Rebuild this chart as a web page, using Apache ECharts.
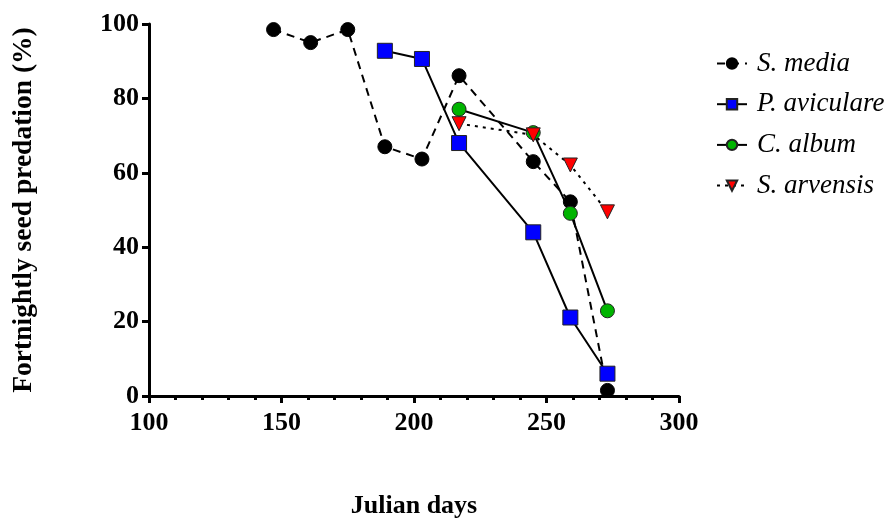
<!DOCTYPE html>
<html><head><meta charset="utf-8">
<script src="https://cdn.jsdelivr.net/npm/echarts@6/dist/echarts.min.js"></script>
<style>html,body{margin:0;padding:0;background:#fff}#c{width:894px;height:519px}</style>
</head><body><div id="c"></div>
<script>
const seriesNames = ['S. media', 'P. aviculare', 'C. album', 'S. arvensis'];
const sMediaDays = [147, 161, 175, 189, 203, 217, 245, 259, 273];
const sMediaVals = [98.5, 95.0, 98.5, 67.0, 63.7, 86.1, 63.0, 52.2, 1.5];
const pAvicDays = [189, 203, 217, 245, 259, 273];
const pAvicVals = [92.8, 90.6, 68.0, 44.0, 21.1, 6.0];
const cAlbumDays = [217, 245, 259, 273];
const cAlbumVals = [77.1, 70.8, 49.1, 22.9];
const sArvDays = [217, 245, 259, 273];
const sArvVals = [73.2, 70.2, 62.1, 49.5];

const zip = (a, b) => a.map((x, i) => [x, b[i]]);
const font = 'Liberation Serif';
const chart = echarts.init(document.getElementById('c'));
chart.setOption({
  animation: false,
  grid: {left: 149, right: 215, top: 24, bottom: 123, containLabel: false, outerBoundsMode: 'none'},
  legend: {
    orient: 'vertical', left: 711, top: 45, itemGap: 13.7, itemWidth: 30, itemHeight: 13,
    data: seriesNames,
    textStyle: {fontFamily: font, fontStyle: 'italic', fontSize: 27, color: '#000', padding: [0, 0, 0, 5]}
  },
  xAxis: {
    type: 'value', min: 100, max: 300, interval: 50,
    name: 'Julian days', nameLocation: 'middle', nameGap: 97,
    nameTextStyle: {fontFamily: font, fontWeight: 'bold', fontSize: 26, color: '#000'},
    axisLine: {lineStyle: {color: '#000', width: 3}},
    axisTick: {length: 7, lineStyle: {color: '#000', width: 3}},
    minorTick: {show: true, splitNumber: 5, length: 4, lineStyle: {color: '#000', width: 3}},
    axisLabel: {fontFamily: font, fontWeight: 'bold', fontSize: 26, color: '#000', margin: 14},
    splitLine: {show: false}
  },
  yAxis: {
    type: 'value', min: 0, max: 100, interval: 20,
    name: 'Fortnightly seed predation (%)', nameLocation: 'middle', nameGap: 111,
    nameTextStyle: {fontFamily: font, fontWeight: 'bold', fontSize: 27.5, color: '#000'},
    axisLine: {show: true, lineStyle: {color: '#000', width: 3}},
    axisTick: {show: true, length: 7, lineStyle: {color: '#000', width: 3}},
    axisLabel: {fontFamily: font, fontWeight: 'bold', fontSize: 26, color: '#000', margin: 10},
    splitLine: {show: false}
  },
  series: [
    {name: seriesNames[0], type: 'line', data: zip(sMediaDays, sMediaVals),
     symbol: 'circle', symbolSize: 14,
     itemStyle: {color: '#000', borderColor: '#000', borderWidth: 1},
     lineStyle: {color: '#000', width: 2, type: [8, 6]}},
    {name: seriesNames[1], type: 'line', data: zip(pAvicDays, pAvicVals),
     symbol: 'rect', symbolSize: 15,
     itemStyle: {color: '#0000ff', borderColor: '#222', borderWidth: 1},
     lineStyle: {color: '#000', width: 2, type: 'solid'}},
    {name: seriesNames[2], type: 'line', data: zip(cAlbumDays, cAlbumVals),
     symbol: 'circle', symbolSize: 14,
     itemStyle: {color: '#00b400', borderColor: '#222', borderWidth: 1},
     lineStyle: {color: '#000', width: 2, type: 'solid'}},
    {name: seriesNames[3], type: 'line', data: zip(sArvDays, sArvVals),
     symbol: 'triangle', symbolRotate: 180, symbolSize: 14,
     itemStyle: {color: '#ff0000', borderColor: '#222', borderWidth: 1},
     lineStyle: {color: '#000', width: 2, type: [3, 5]}}
  ]
});
</script></body></html>
